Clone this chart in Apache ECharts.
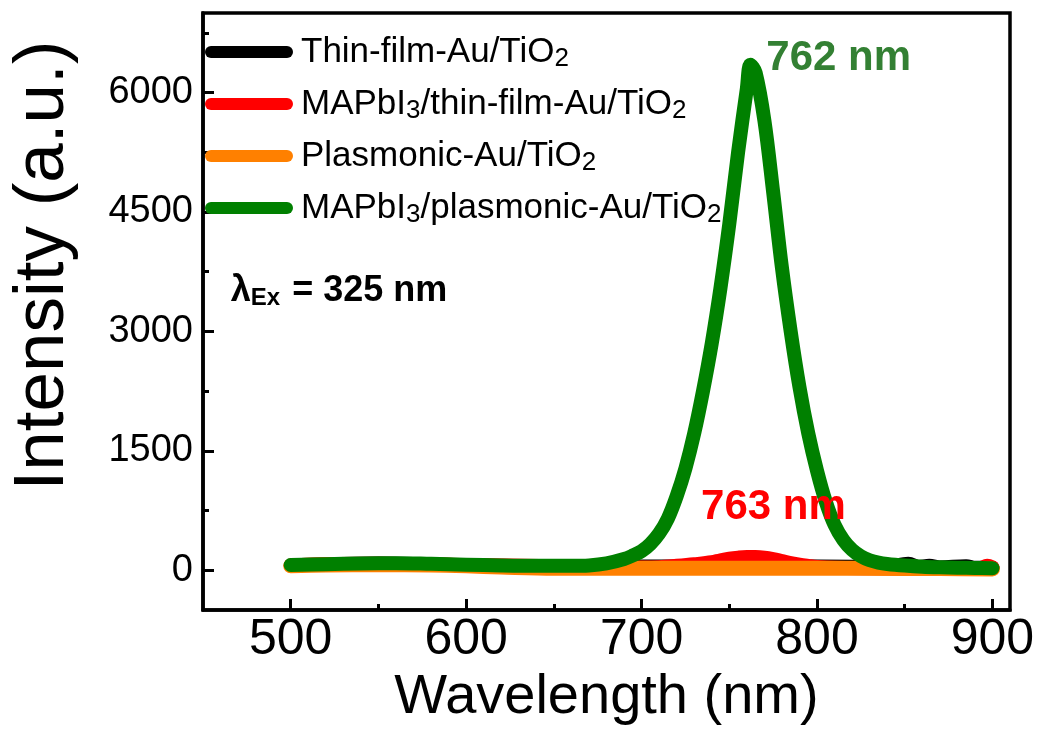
<!DOCTYPE html>
<html><head><meta charset="utf-8">
<script src="https://cdn.jsdelivr.net/npm/echarts@6/dist/echarts.min.js"></script>
<style>html,body{margin:0;padding:0;background:#fff}#c{width:1039px;height:732px}</style>
</head><body><div id="c"></div>
<script>
// ---------------- data ----------------
const seriesNames = ['Thin-film-Au/TiO2', 'MAPbI3/thin-film-Au/TiO2', 'Plasmonic-Au/TiO2', 'MAPbI3/plasmonic-Au/TiO2'];
const seriesColors = ['#000000', '#ff0000', '#ff8000', '#008000'];

const wlBlack  = [500, 520, 550, 580, 600, 650, 700, 750, 800, 840, 852, 858, 864, 870, 885, 890, 900];
const intBlack = [ 60,  75,  85,  75,  60,  50,  45,  45,  45,  40,  80,  40,  55,  35,  50,  30,  30];

const wlRed  = [500, 520, 550, 600, 650, 680, 700, 710, 720, 730, 740, 745, 750, 755, 760, 765, 770, 775, 780, 785, 790, 795, 800, 810, 830, 860, 880, 893, 897, 900];
const intRed = [ 60,  75,  80,  65,  50,  40,  35,  38,  55,  75, 100, 125, 145, 158, 165, 165, 158, 140, 115,  90,  70,  55,  42,  30,  25,  22,  22,  25,  55,  35];

const wlOrange  = [500, 520, 550, 580, 600, 620, 650, 700, 750, 800, 850, 870, 900];
const intOrange = [ 55,  65,  70,  65,  55,  40,  25,  25,  25,  25,  22,  20,  15];

const wlGreen  = [500, 520, 540, 560, 580, 600, 620, 640, 660, 670, 680, 690, 695, 700, 705, 710, 715, 720, 725, 730, 735, 740, 745, 750, 755, 760, 762, 765, 770, 775, 780, 785, 790, 795, 800, 805, 810, 815, 820, 825, 830, 835, 840, 850, 860, 870, 880, 890, 900];
const intGreen = [ 65,  75,  85,  88,  80,  70,  60,  55,  55,  60,  85, 140, 185, 240, 330, 460, 650, 930,1280,1720,2250,2850,3550,4350,5250,6050,6350,6250,5650,4750,3800,3000,2300,1720,1250, 860, 570, 380, 255, 175, 125,  95,  78,  58,  44,  36,  31,  28,  25];

const xMajorTicks = [500, 600, 700, 800, 900];
const xMinorTicks = [550, 650, 750, 850];
const yMajorTicks = [0, 1500, 3000, 4500, 6000];
const yMinorTicks = [750, 2250, 3750, 5250, 6750];

const xTitle = 'Wavelength (nm)';
const yTitle = 'Intensity (a.u.)';
const peakGreen = [762, 6350], peakGreenText = '762 nm';
const peakRed = [763, 165], peakRedText = '763 nm';

// ---------------- chart ----------------
const pairs = (xs, ys) => xs.map((x, i) => [x, ys[i]]);
const allData = [pairs(wlBlack, intBlack), pairs(wlRed, intRed), pairs(wlOrange, intOrange), pairs(wlGreen, intGreen)];
const widths = [14, 14, 15, 14];

const font = "'Liberation Sans', Arial, sans-serif";
const chart = echarts.init(document.getElementById('c'), null, {renderer: 'canvas'});

const baseX = {type: 'value', min: 450, max: 910, gridIndex: 0, position: 'bottom', splitLine: {show: false}};
const baseY = {type: 'value', min: -500, max: 7000, gridIndex: 0, position: 'left', splitLine: {show: false}};

chart.setOption({
  animation: false,
  backgroundColor: '#fff',
  grid: {left: 200, right: 29, top: 13, bottom: 122, show: true, borderColor: '#000', borderWidth: 3.5, backgroundColor: 'transparent'},
  xAxis: [
    Object.assign({}, baseX, {
      name: xTitle, nameLocation: 'middle', nameGap: 52,
      nameTextStyle: {fontFamily: font, fontSize: 56, color: '#000', verticalAlign: 'top'},
      axisLine: {show: true, onZero: false, lineStyle: {color: '#000', width: 3.5}},
      axisTick: {show: true, inside: true, length: 11, lineStyle: {color: '#000', width: 3}, customValues: xMajorTicks},
      axisLabel: {show: true, margin: 5, fontFamily: font, fontSize: 50, color: '#000', customValues: xMajorTicks, formatter: v => String(v)}
    }),
    Object.assign({}, baseX, {
      axisLine: {show: false, onZero: false},
      axisTick: {show: true, inside: true, length: 6, lineStyle: {color: '#000', width: 3}, customValues: xMinorTicks},
      axisLabel: {show: false}
    })
  ],
  yAxis: [
    Object.assign({}, baseY, {
      name: yTitle, nameLocation: 'middle', nameGap: 124,
      nameTextStyle: {fontFamily: font, fontSize: 71, color: '#000', padding: [0, 0, 0, 92]},
      axisLine: {show: true, onZero: false, lineStyle: {color: '#000', width: 3.5}},
      axisTick: {show: true, inside: true, length: 11, lineStyle: {color: '#000', width: 3}, customValues: yMajorTicks},
      axisLabel: {show: true, margin: 10, fontFamily: font, fontSize: 38, color: '#000', customValues: yMajorTicks, formatter: v => String(v)}
    }),
    Object.assign({}, baseY, {
      axisLine: {show: false, onZero: false},
      axisTick: {show: true, inside: true, length: 6, lineStyle: {color: '#000', width: 3}, customValues: yMinorTicks},
      axisLabel: {show: false}
    })
  ],
  legend: {
    orient: 'vertical', left: 205, top: 32, padding: 0, itemGap: 12,
    itemWidth: 88, itemHeight: 12,
    icon: 'path://M6,0H82A6,6,0,0,1,82,12H6A6,6,0,0,1,6,0Z',
    data: seriesNames,
    formatter: n => n.replace(/I3/g, 'I{sub|3}').replace(/O2/g, 'O{sub|2}'),
    textStyle: {
      fontFamily: font, fontSize: 35, color: '#000', lineHeight: 40, padding: [0, 0, 0, 3],
      rich: {sub: {fontFamily: font, fontSize: 26, color: '#000', lineHeight: 26, verticalAlign: 'bottom', padding: [9, 0, 0, 0]}}
    }
  },
  series: seriesNames.map((n, i) => ({
    name: n, type: 'line', xAxisIndex: 0, yAxisIndex: 0,
    data: allData[i], showSymbol: false, smooth: 0.35,
    color: seriesColors[i],
    lineStyle: {color: seriesColors[i], width: widths[i], cap: 'round', join: 'round'},
    z: 2 + i
  }))
});

function placeAnnotations() {
  const pg = chart.convertToPixel({gridIndex: 0}, peakGreen);
  const pr = chart.convertToPixel({gridIndex: 0}, peakRed);
  const exPos = chart.convertToPixel({gridIndex: 0}, [467, 3500]);
  chart.setOption({
    graphic: [
      {type: 'text', left: pg[0] + 16, top: pg[1] - 27, z: 100,
        style: {text: peakGreenText, fontFamily: font, fontWeight: 'bold', fontSize: 42, fill: '#338033'}},
      {type: 'text', left: pr[0] - 51, top: pr[1] - 71, z: 100,
        style: {text: peakRedText, fontFamily: font, fontWeight: 'bold', fontSize: 42, fill: '#ff0000'}},
      {type: 'text', left: exPos[0] - 2, top: exPos[1] - 19, z: 100,
        style: {text: '{l|λ}{s|Ex}{b| = 325 nm}', fontFamily: font,
          rich: {
            l: {fontFamily: font, fontSize: 36, fontWeight: 'bold', fill: '#000', lineHeight: 40},
            s: {fontFamily: font, fontSize: 24, fontWeight: 'bold', fill: '#000', lineHeight: 24, verticalAlign: 'bottom', padding: [7, 2, 0, 0]},
            b: {fontFamily: font, fontSize: 36, fontWeight: 'bold', fill: '#000', lineHeight: 40}
          }}}
    ]
  });
}
placeAnnotations();
</script>
</body></html>
